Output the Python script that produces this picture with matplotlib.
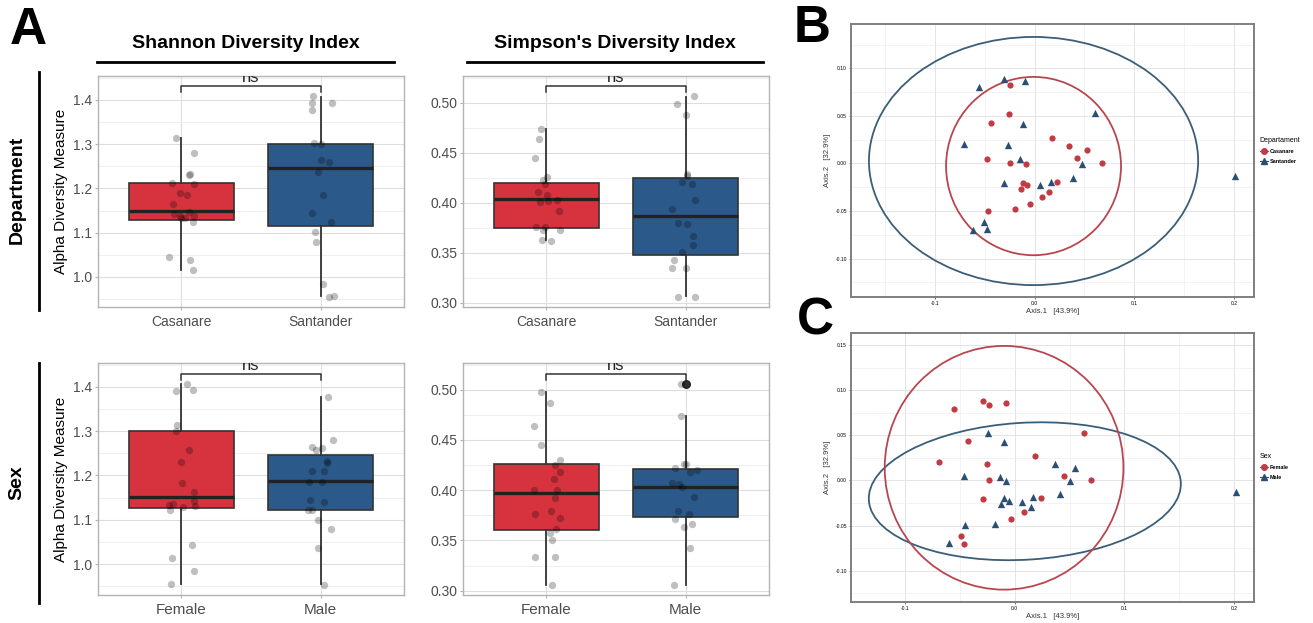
import matplotlib
matplotlib.use('Agg')
import matplotlib.pyplot as plt
from matplotlib.patches import Ellipse
from matplotlib.lines import Line2D
from matplotlib.ticker import MultipleLocator, FormatStrFormatter

plt.rcParams['font.family'] = ['Liberation Sans', 'DejaVu Sans']
plt.rcParams['axes.unicode_minus'] = False

# ------------------------------------------------------------------ data A
dept_groups = ['Casanare', 'Santander']
sex_groups = ['Female', 'Male']

# box stats: [whisker low, q1, median, q3, whisker high]
shannon_dept_box_cas = [1.015, 1.129, 1.148, 1.212, 1.315]
shannon_dept_box_san = [0.956, 1.116, 1.247, 1.301, 1.4075]
simpson_dept_box_cas = [0.3625, 0.375, 0.4037, 0.420, 0.474]
simpson_dept_box_san = [0.3067, 0.348, 0.3864, 0.425, 0.506]
shannon_sex_box_fem = [0.955, 1.1258, 1.152, 1.3006, 1.407]
shannon_sex_box_male = [0.955, 1.1213, 1.1883, 1.2463, 1.3766]
simpson_sex_box_fem = [0.306, 0.3604, 0.3968, 0.426, 0.4977]
simpson_sex_box_male = [0.306, 0.3733, 0.4031, 0.4207, 0.4735]
simpson_sex_out_male = [0.506]

# jittered sample values and their horizontal jitter (category units)
shannon_dept_cas = [1.315, 1.280, 1.232, 1.230, 1.213, 1.211, 1.189, 1.185, 1.164, 1.147,
                    1.143, 1.137, 1.133, 1.137, 1.132, 1.123, 1.046, 1.039, 1.015]
shannon_dept_cas_jit = [-0.038, 0.091, 0.060, 0.057, -0.067, 0.091, -0.007, 0.043, -0.060, 0.057,
                        -0.050, -0.012, 0.029, 0.093, 0.0, 0.081, -0.093, 0.060, 0.081]
shannon_dept_san = [1.408, 1.392, 1.378, 1.394, 1.302, 1.301, 1.264, 1.259, 1.236, 1.186,
                    1.144, 1.124, 1.101, 1.080, 0.985, 0.955, 0.956]
shannon_dept_san_jit = [-0.053, -0.060, -0.064, 0.081, -0.048, 0.0, 0.0, 0.060, -0.017, 0.017,
                        -0.060, 0.072, -0.041, -0.033, 0.019, 0.060, 0.100]

simpson_dept_cas = [0.474, 0.4635, 0.4445, 0.426, 0.4226, 0.4186, 0.411, 0.4076, 0.401, 0.4017,
                    0.4033, 0.392, 0.3758, 0.3758, 0.3724, 0.3724, 0.3631, 0.3618]
simpson_dept_cas_jit = [-0.036, -0.057, -0.079, 0.002, -0.022, -0.007, -0.062, 0.002, -0.048, 0.012,
                        0.077, 0.089, -0.077, -0.007, -0.024, 0.098, -0.029, 0.033]
simpson_dept_san = [0.4983, 0.5063, 0.4874, 0.4292, 0.4272, 0.4203, 0.419, 0.403, 0.394, 0.3794,
                    0.379, 0.3668, 0.3575, 0.351, 0.3425, 0.3346, 0.3346, 0.3063, 0.3063]
simpson_dept_san_jit = [-0.060, 0.062, 0.0, 0.010, 0.010, -0.024, 0.045, 0.065, -0.096, -0.057,
                        0.014, 0.053, 0.053, -0.024, -0.086, -0.098, 0.0, -0.055, 0.069]

shannon_sex_fem = [1.390, 1.4075, 1.3925, 1.314, 1.3006, 1.2576, 1.2305, 1.1838, 1.162, 1.1416,
                   1.1363, 1.1333, 1.128, 1.1303, 1.1228, 1.0437, 1.0128, 0.9842, 0.9548]
shannon_sex_fem_jit = [-0.036, 0.041, 0.081, -0.029, -0.038, 0.057, 0.0, 0.007, 0.093, 0.091,
                       -0.060, -0.088, 0.012, 0.095, -0.081, 0.076, -0.067, 0.088, -0.072]
shannon_sex_male = [1.3766, 1.2802, 1.2644, 1.2576, 1.262, 1.2328, 1.228, 1.2102, 1.2094, 1.186,
                    1.1853, 1.1454, 1.1409, 1.1213, 1.1228, 1.0994, 1.079, 1.0369, 0.9525]
shannon_sex_male_jit = [0.057, 0.093, -0.064, -0.031, 0.007, 0.048, 0.048, -0.062, 0.024, -0.086,
                        0.007, -0.074, 0.024, -0.091, -0.062, -0.019, 0.076, -0.019, 0.026]

simpson_sex_fem = [0.4977, 0.487, 0.4635, 0.4446, 0.430, 0.4247, 0.4184, 0.4111, 0.4005, 0.4002,
                   0.3919, 0.3789, 0.3760, 0.372, 0.3617, 0.3574, 0.3507, 0.3338, 0.3338, 0.3056]
simpson_sex_fem_jit = [-0.036, 0.024, -0.091, -0.036, 0.100, 0.062, 0.098, 0.053, -0.091, 0.077,
                       0.062, 0.031, -0.081, 0.096, 0.072, 0.029, 0.043, -0.081, 0.060, 0.043]
simpson_sex_male = [0.506, 0.4738, 0.4217, 0.4264, 0.426, 0.4177, 0.420, 0.4075, 0.4065, 0.4031,
                    0.3935, 0.3796, 0.3763, 0.3716, 0.3633, 0.3663, 0.3421, 0.306]
simpson_sex_male_jit = [-0.033, -0.036, -0.079, -0.014, 0.0, 0.031, 0.084, -0.096, -0.045, -0.026,
                        0.062, -0.057, 0.026, -0.077, -0.014, 0.048, 0.033, -0.084]

# ------------------------------------------------------------------ data B (PCoA by department)
pcoa_b_cas_x = [-0.025, -0.026, -0.044, -0.048, -0.025, -0.009, 0.017, 0.035, 0.053, 0.043,
                0.068, -0.012, -0.008, -0.014, 0.023, 0.014, 0.007, -0.005, -0.020, -0.047]
pcoa_b_cas_y = [0.083, 0.052, 0.043, 0.005, 0.001, -0.001, 0.027, 0.018, 0.014, 0.006,
                0.000, -0.021, -0.023, -0.027, -0.019, -0.030, -0.035, -0.043, -0.048, -0.050]
pcoa_b_san_x = [-0.056, -0.031, -0.010, 0.061, -0.012, -0.071, -0.027, -0.015, 0.048, 0.039,
                0.016, 0.005, -0.031, -0.051, -0.062, -0.048, 0.201]
pcoa_b_san_y = [0.080, 0.089, 0.087, 0.053, 0.042, 0.021, 0.019, 0.005, -0.001, -0.015,
                -0.019, -0.023, -0.020, -0.061, -0.070, -0.069, -0.013]
# ellipses: [center x, center y, width, height, angle]
ell_b_cas = [-0.001, -0.0027, 0.1754, 0.1874, 0.0]
ell_b_san = [-0.001, 0.0026, 0.330, 0.2608, 0.0]

# ------------------------------------------------------------------ data C (PCoA by sex)
pcoa_c_fem_x = [-0.055, -0.029, -0.023, -0.008, 0.063, -0.042, 0.019, -0.069, -0.025, -0.023,
                0.045, 0.070, -0.029, 0.024, 0.009, -0.003, -0.049, -0.046]
pcoa_c_fem_y = [0.079, 0.088, 0.083, 0.086, 0.052, 0.044, 0.027, 0.020, 0.018, 0.001,
                0.005, 0.000, -0.021, -0.020, -0.035, -0.043, -0.062, -0.070]
pcoa_c_male_x = [-0.024, -0.010, -0.046, -0.013, -0.008, 0.037, 0.055, 0.050, 0.041, 0.017,
                 -0.010, -0.005, -0.012, 0.007, 0.015, -0.045, -0.018, -0.060, 0.202]
pcoa_c_male_y = [0.053, 0.042, 0.005, 0.004, -0.001, 0.018, 0.014, -0.001, -0.015, -0.018,
                 -0.020, -0.023, -0.026, -0.024, -0.029, -0.049, -0.048, -0.069, -0.013]
ell_c_fem = [-0.0096, 0.014, 0.2174, 0.270, 0.0]
ell_c_male = [0.0093, -0.012, 0.2848, 0.1516, 4.5]

# ------------------------------------------------------------------ styling
W, H = 1313, 623
RED = '#D6333F'
BLUE = '#2B5A8A'
PRED = '#C23A43'
PBLUE = '#2C4E72'
ERED = '#B8464F'
EBLUE = '#3B5E78'

fig = plt.figure(figsize=(W / 100, H / 100), dpi=100)
fig.patch.set_facecolor('white')


def px_axes(left, top, right, bottom):
    return fig.add_axes([left / W, 1 - bottom / H, (right - left) / W, (bottom - top) / H])


def stats_of(box, fliers=()):
    return dict(whislo=box[0], q1=box[1], med=box[2], q3=box[3], whishi=box[4], fliers=list(fliers))


def box_panel(ax, boxes, fliers, pts, jits, groups, ylim, ymajor, yfmt, xfs):
    stats = [stats_of(b, f) for b, f in zip(boxes, fliers)]
    res = ax.bxp(stats, positions=[1, 2], widths=0.75, patch_artist=True, showcaps=False,
                 boxprops=dict(edgecolor='#333333', linewidth=1.2),
                 whiskerprops=dict(color='#333333', linewidth=1.3),
                 medianprops=dict(color='#222222', linewidth=2.4),
                 flierprops=dict(marker='o', markerfacecolor='#1a1a1a', markeredgecolor='#1a1a1a',
                                 markersize=5.5, alpha=0.9))
    for patch, c in zip(res['boxes'], [RED, BLUE]):
        patch.set_facecolor(c)
        patch.set_zorder(2)
    for i, (vals, jit) in enumerate(zip(pts, jits)):
        xs = [i + 1 + j for j in jit]
        ax.scatter(xs, vals, s=28, color='black', alpha=0.25, linewidths=0, zorder=4)
    ax.set_xlim(0.4, 2.6)
    ax.set_ylim(*ylim)
    ax.set_xticks([1, 2])
    ax.set_xticklabels(groups, fontsize=xfs, color='#4D4D4D')
    ax.yaxis.set_major_locator(MultipleLocator(ymajor))
    ax.yaxis.set_minor_locator(MultipleLocator(ymajor / 2))
    ax.yaxis.set_major_formatter(FormatStrFormatter(yfmt))
    ax.tick_params(axis='y', labelsize=10, labelcolor='#4D4D4D', length=2, color='#B3B3B3', pad=2)
    ax.tick_params(axis='x', length=2, color='#B3B3B3', pad=4)
    ax.tick_params(which='minor', length=0)
    ax.grid(True, which='major', color='#DEDEDE', linewidth=0.8, zorder=0)
    ax.grid(True, which='minor', axis='y', color='#ECECEC', linewidth=0.6, zorder=0)
    ax.set_axisbelow(True)
    for s in ax.spines.values():
        s.set_color('#B3B3B3')
        s.set_linewidth(1.0)
    # significance bracket
    allv = list(pts[0]) + list(pts[1])
    lo, hi = min(allv), max(allv)
    yb = hi + 0.05 * (hi - lo)
    tip = 0.026 * (ylim[1] - ylim[0])
    ax.plot([1, 1, 2, 2], [yb - tip, yb, yb, yb - tip], color='#333333', linewidth=1.1, zorder=5,
            clip_on=False)
    ax.text(1.5, yb + 0.004 * (ylim[1] - ylim[0]), 'ns', ha='center', va='bottom', fontsize=12,
            color='#222222', clip_on=True, zorder=5)


ax1 = px_axes(98, 76, 404, 307)
box_panel(ax1, [shannon_dept_box_cas, shannon_dept_box_san], [[], []],
          [shannon_dept_cas, shannon_dept_san], [shannon_dept_cas_jit, shannon_dept_san_jit],
          dept_groups, (0.932, 1.454), 0.1, '%.1f', 10)
ax2 = px_axes(463, 76, 769, 307)
box_panel(ax2, [simpson_dept_box_cas, simpson_dept_box_san], [[], []],
          [simpson_dept_cas, simpson_dept_san], [simpson_dept_cas_jit, simpson_dept_san_jit],
          dept_groups, (0.296, 0.5266), 0.05, '%.2f', 10)
ax3 = px_axes(98, 363, 404, 595)
box_panel(ax3, [shannon_sex_box_fem, shannon_sex_box_male], [[], []],
          [shannon_sex_fem, shannon_sex_male], [shannon_sex_fem_jit, shannon_sex_male_jit],
          sex_groups, (0.930, 1.454), 0.1, '%.1f', 11)
ax4 = px_axes(463, 363, 769, 595)
box_panel(ax4, [simpson_sex_box_fem, simpson_sex_box_male], [[], simpson_sex_out_male],
          [simpson_sex_fem, simpson_sex_male], [simpson_sex_fem_jit, simpson_sex_male_jit],
          sex_groups, (0.2957, 0.5265), 0.05, '%.2f', 11)

for ax in (ax1, ax3):
    ax.set_ylabel('Alpha Diversity Measure', fontsize=11, color='black', labelpad=4)


def pcoa_panel(ax, g1x, g1y, g2x, g2y, e1, e2, labels, title, xlim, ylim, yticks, leg_top):
    for e, c in ((e2, EBLUE), (e1, ERED)):
        ax.add_patch(Ellipse((e[0], e[1]), e[2], e[3], angle=e[4], fill=False, edgecolor=c,
                             linewidth=1.3, zorder=3))
    ax.scatter(g1x, g1y, marker='o', s=20, color=PRED, linewidths=0, zorder=4)
    ax.scatter(g2x, g2y, marker='^', s=28, color=PBLUE, linewidths=0, zorder=4)
    ax.set_xlim(*xlim)
    ax.set_ylim(*ylim)
    ax.set_xticks([-0.1, 0.0, 0.1, 0.2])
    ax.xaxis.set_major_formatter(FormatStrFormatter('%.1f'))
    ax.set_yticks(yticks)
    ax.yaxis.set_major_formatter(FormatStrFormatter('%.2f'))
    ax.xaxis.set_minor_locator(MultipleLocator(0.05))
    ax.yaxis.set_minor_locator(MultipleLocator(0.025))
    ax.tick_params(labelsize=3.6, length=1.5, width=0.5, color='#333333', pad=1.5)
    ax.tick_params(which='minor', length=0)
    ax.grid(True, which='major', color='#E3E3E8', linewidth=0.7)
    ax.grid(True, which='minor', color='#EEEEF2', linewidth=0.5)
    ax.set_axisbelow(True)
    for s in ax.spines.values():
        s.set_color('#7F7F7F')
        s.set_linewidth(1.4)
    ax.set_xlabel('Axis.1   [43.9%]', fontsize=5.5, color='#333333', labelpad=1)
    ax.set_ylabel('Axis.2   [32.9%]', fontsize=5.5, color='#333333', labelpad=3)
    handles = [Line2D([], [], color=PRED, marker='o', markersize=4, linewidth=0.8),
               Line2D([], [], color=PBLUE, marker='^', markersize=4.5, linewidth=0.8)]
    leg = ax.legend(handles, labels, title=title, loc='upper left',
                    bbox_to_anchor=(1257 / W, 1 - leg_top / H), bbox_transform=fig.transFigure,
                    frameon=False, fontsize=4, title_fontsize=5, handlelength=1.4,
                    handletextpad=0.4, labelspacing=0.9, borderpad=0, alignment='left')
    for t in leg.get_texts():
        t.set_fontweight('bold')


axB = px_axes(851, 24, 1254, 297)
pcoa_panel(axB, pcoa_b_cas_x, pcoa_b_cas_y, pcoa_b_san_x, pcoa_b_san_y, ell_b_cas, ell_b_san,
           dept_groups, 'Departament', (-0.184, 0.220), (-0.1403, 0.1466),
           [-0.10, -0.05, 0.0, 0.05, 0.10], 134)
axC = px_axes(851, 333, 1254, 602)
pcoa_panel(axC, pcoa_c_fem_x, pcoa_c_fem_y, pcoa_c_male_x, pcoa_c_male_y, ell_c_fem, ell_c_male,
           sex_groups, 'Sex', (-0.149, 0.218), (-0.1347, 0.1633),
           [-0.10, -0.05, 0.0, 0.05, 0.10, 0.15], 450)

# ------------------------------------------------------------------ annotations


def ftext(x, y, s, **kw):
    fig.text(x / W, 1 - y / H, s, **kw)


def fline(x0, y0, x1, y1, lw=2.0):
    fig.add_artist(Line2D([x0 / W, x1 / W], [1 - y0 / H, 1 - y1 / H], color='black', linewidth=lw,
                          transform=fig.transFigure))


ftext(28, 30, 'A', fontsize=37, fontweight='bold', ha='center', va='center')
ftext(812, 29, 'B', fontsize=37, fontweight='bold', ha='center', va='center')
ftext(815, 321, 'C', fontsize=37, fontweight='bold', ha='center', va='center')

ftext(246, 44, 'Shannon Diversity Index', fontsize=14, fontweight='bold', ha='center', va='center')
ftext(615, 44, "Simpson's Diversity Index", fontsize=14, fontweight='bold', ha='center', va='center')
fline(97, 61.5, 394, 61.5)
fline(467, 61.5, 763, 61.5)

ftext(17, 190, 'Department', fontsize=14, fontweight='bold', rotation=90, ha='center', va='center')
ftext(17, 483, 'Sex', fontsize=14, fontweight='bold', rotation=90, ha='center', va='center')
fline(39, 72, 39, 310)
fline(39, 363, 39, 603)

fig.savefig('out.png', dpi=100, facecolor='white')
